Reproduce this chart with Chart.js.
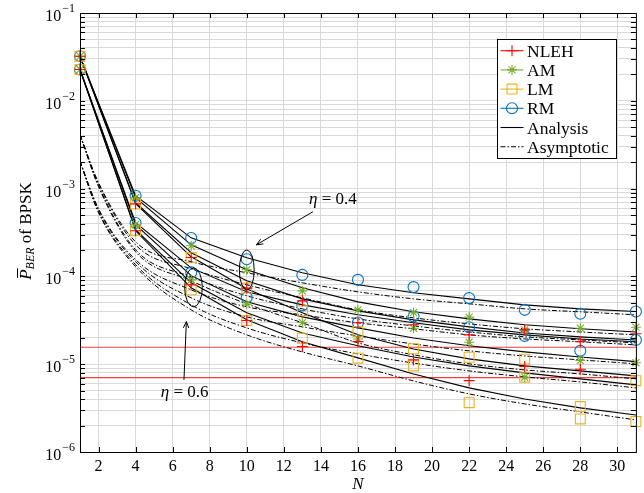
<!DOCTYPE html>
<html>
<head>
<meta charset="utf-8">
<script src="https://cdn.jsdelivr.net/npm/chart.js@4.4.1/dist/chart.umd.min.js"></script>
<style>
html, body { margin: 0; padding: 0; background: #fff; }
</style>
</head>
<body>
<canvas id="berChart" width="644" height="493"></canvas>
<script>
// number of antennas N where the curves are sampled
const N = [1, 4, 7, 10, 13, 16, 19, 22, 25, 28, 31];
const NAsym = [1, 2, 4, 7, 10, 13, 16, 19, 22, 25, 28, 31];
const xTicks = [2, 4, 6, 8, 10, 12, 14, 16, 18, 20, 22, 24, 26, 28, 30];
const yDecades = [1e-6, 1e-5, 1e-4, 1e-3, 1e-2, 1e-1];

// simulated BER, eta = 0.4
const simNLEH04 = [3.22e-2, 6.7e-4, 1.64e-4, 7.36e-5, 5.27e-5, 2.96e-5, 2.81e-5, 2.16e-5, 2.46e-5, 1.81e-5, 2.22e-5];
const simAM04   = [3.22e-2, 7.87e-4, 2.23e-4, 1.19e-4, 6.85e-5, 4.16e-5, 3.87e-5, 3.44e-5, 2.46e-5, 2.57e-5, 2.64e-5];
const simLM04   = [3.22e-2, 6.67e-4, 1.64e-4, 7.36e-5, 4.05e-5, 2.35e-5, 1.50e-5, 1.20e-5, 1.14e-5, 3.29e-6, 6.50e-6];
const simRM04   = [3.22e-2, 8.3e-4, 2.74e-4, 1.57e-4, 1.04e-4, 9.14e-5, 7.55e-5, 5.66e-5, 4.16e-5, 3.75e-5, 3.98e-5];
// simulated BER, eta = 0.6
const simNLEH06 = [2.27e-2, 3.31e-4, 8.02e-5, 3.14e-5, 1.59e-5, 1.81e-5, 1.12e-5, 6.50e-6, 9.40e-6, 8.77e-6, null];
const simAM06   = [2.27e-2, 3.88e-4, 9.14e-5, 4.83e-5, 2.98e-5, 1.94e-5, 2.57e-5, 1.78e-5, 7.11e-6, 1.10e-5, 1.04e-5];
const simLM06   = [2.27e-2, 3.31e-4, 7.03e-5, 3.14e-5, 1.98e-5, 1.17e-5, 9.57e-6, 3.65e-6, 7.11e-6, 2.38e-6, 2.22e-6];
const simRM06   = [2.27e-2, 4.06e-4, 1.11e-4, 5.75e-5, 4.68e-5, 2.98e-5, 3.49e-5, 2.64e-5, 2.10e-5, 1.42e-5, 1.89e-5];

// analysis (solid)
const anaRM04   = [3.2e-2, 8.30e-4, 2.75e-4, 1.63e-4, 1.10e-4, 8.02e-5, 6.50e-5, 5.55e-5, 4.74e-5, 4.27e-5, 3.98e-5];
const anaAM04   = [3.2e-2, 7.87e-4, 2.29e-4, 1.19e-4, 7.41e-5, 5.13e-5, 3.95e-5, 3.28e-5, 2.81e-5, 2.53e-5, 2.33e-5];
const anaNLEH04 = [3.2e-2, 6.90e-4, 1.86e-4, 8.91e-5, 5.55e-5, 4.05e-5, 3.20e-5, 2.66e-5, 2.27e-5, 2.05e-5, 1.89e-5];
const anaLM04   = [3.2e-2, 6.72e-4, 1.67e-4, 7.22e-5, 3.85e-5, 2.16e-5, 1.49e-5, 1.15e-5, 9.56e-6, 8.39e-6, 7.36e-6];
const anaRM06   = [2.27e-2, 4.08e-4, 1.25e-4, 6.67e-5, 4.74e-5, 3.65e-5, 2.96e-5, 2.46e-5, 2.16e-5, 1.94e-5, 1.80e-5];
const anaAM06   = [2.27e-2, 3.88e-4, 1.02e-4, 5.13e-5, 3.46e-5, 2.59e-5, 1.99e-5, 1.62e-5, 1.38e-5, 1.21e-5, 1.07e-5];
const anaNLEH06 = [2.27e-2, 3.40e-4, 8.45e-5, 3.85e-5, 2.27e-5, 1.62e-5, 1.21e-5, 9.56e-6, 7.96e-6, 6.80e-6, 5.81e-6];
const anaLM06   = [2.27e-2, 3.31e-4, 7.41e-5, 3.20e-5, 1.80e-5, 1.18e-5, 7.75e-6, 5.37e-6, 4.02e-6, 3.18e-6, 2.64e-6];

// asymptotic (dash-dot), sampled on NAsym
const asyRM04   = [4.1e-3, 1.17e-3, 2.48e-4, 1.47e-4, 1.10e-4, 8.45e-5, 6.67e-5, 5.55e-5, 4.87e-5, 4.27e-5, 3.95e-5, 3.65e-5];
const asyAM04   = [4.1e-3, 1.14e-3, 2.29e-4, 1.22e-4, 8.02e-5, 5.70e-5, 4.16e-5, 3.37e-5, 2.88e-5, 2.53e-5, 2.33e-5, 2.16e-5];
const asyNLEH04 = [4.1e-3, 1.08e-3, 2.01e-4, 9.89e-5, 6.01e-5, 4.27e-5, 3.28e-5, 2.73e-5, 2.33e-5, 2.05e-5, 1.89e-5, 1.75e-5];
const asyLM04   = [4.1e-3, 1.05e-3, 1.91e-4, 8.91e-5, 4.87e-5, 2.96e-5, 1.75e-5, 1.28e-5, 1.01e-5, 8.61e-6, 7.75e-6, 6.80e-6];
const asyRM06   = [2.04e-3, 5.90e-4, 1.55e-4, 7.03e-5, 4.50e-5, 3.65e-5, 2.96e-5, 2.53e-5, 2.16e-5, 1.94e-5, 1.80e-5, 1.66e-5];
const asyAM06   = [2.04e-3, 5.74e-4, 1.47e-4, 5.70e-5, 3.46e-5, 2.66e-5, 2.10e-5, 1.70e-5, 1.42e-5, 1.24e-5, 1.12e-5, 1.01e-5];
const asyNLEH06 = [2.04e-3, 5.45e-4, 1.36e-4, 4.74e-5, 2.59e-5, 1.75e-5, 1.31e-5, 1.03e-5, 8.39e-6, 7.17e-6, 6.28e-6, 5.37e-6];
const asyLM06   = [2.04e-3, 5.31e-4, 1.29e-4, 4.16e-5, 2.16e-5, 1.38e-5, 9.56e-6, 6.45e-6, 4.59e-6, 3.53e-6, 2.86e-6, 2.32e-6];

// horizontal reference levels (red)
const redLevels = [1.56e-5, 7.03e-6];
const redSpan = [1, 31];

const SERIF = '"Liberation Serif", "DejaVu Serif", serif';
const schemes = [
  { name: 'NLEH', color: '#ff0000', style: 'cross', r: 5.5, sim: [simNLEH04, simNLEH06] },
  { name: 'AM',   color: '#77ac30', style: 'star',  r: 5,   sim: [simAM04, simAM06] },
  { name: 'LM',   color: '#edb120', style: 'rect',  r: 7,   sim: [simLM04, simLM06] },
  { name: 'RM',   color: '#0072bd', style: 'circle', r: 5.5, sim: [simRM04, simRM06] }
];
const DASHDOT = [5, 2, 1.5, 2];

function pts(xs, ys) {
  return xs.map((x, i) => ({ x: x, y: ys[i] })).filter(p => p.y != null);
}

const datasets = [];
// markers on top
schemes.forEach(s => {
  s.sim.forEach(arr => {
    datasets.push({
      data: pts(N, arr), showLine: false, order: 0, clip: false,
      pointStyle: s.style, pointRadius: s.r, pointHoverRadius: s.r,
      borderColor: s.color, backgroundColor: 'rgba(0,0,0,0)', pointBorderWidth: 1.1
    });
  });
});
[anaRM04, anaAM04, anaNLEH04, anaLM04, anaRM06, anaAM06, anaNLEH06, anaLM06].forEach(arr => {
  datasets.push({ data: pts(N, arr), borderColor: '#000', borderWidth: 1.1, pointRadius: 0, tension: 0, order: 1 });
});
[asyRM04, asyAM04, asyNLEH04, asyLM04, asyRM06, asyAM06, asyNLEH06, asyLM06].forEach(arr => {
  datasets.push({ data: pts(NAsym, arr), borderColor: '#000', borderWidth: 1, borderDash: DASHDOT,
    pointRadius: 0, cubicInterpolationMode: 'monotone', order: 1 });
});
redLevels.forEach(v => {
  datasets.push({ data: redSpan.map(x => ({ x: x, y: v })), borderColor: 'rgb(238,64,64)', borderWidth: 1.2, pointRadius: 0, order: 2 });
});

// eta annotations in data units
const notes = [
  { text: '0.4', tx: 14.65, ty: 7.66e-4, from: [13.57, 5.45e-4], to: [10.52, 2.29e-4], ex: [9.6, 10.4], ey: [2.0e-4, 7.0e-5] },
  { text: '0.6', tx: 6.65, ty: 4.83e-6, from: [6.61, 6.62e-6], to: [6.74, 3.06e-5], ex: [6.65, 7.6], ey: [1.25e-4, 4.5e-5] }
];

function marker(ctx, style, x, y, r) {
  ctx.beginPath();
  if (style === 'circle') { ctx.arc(x, y, r, 0, Math.PI * 2); }
  else if (style === 'rect') { const h = r * Math.SQRT1_2; ctx.rect(x - h, y - h, 2 * h, 2 * h); }
  else {
    ctx.moveTo(x - r, y); ctx.lineTo(x + r, y); ctx.moveTo(x, y - r); ctx.lineTo(x, y + r);
    if (style === 'star') {
      const d = r * Math.SQRT1_2;
      ctx.moveTo(x - d, y - d); ctx.lineTo(x + d, y + d); ctx.moveTo(x - d, y + d); ctx.lineTo(x + d, y - d);
    }
  }
  ctx.stroke();
}

function arrow(ctx, x1, y1, x2, y2) {
  ctx.beginPath(); ctx.moveTo(x1, y1); ctx.lineTo(x2, y2); ctx.stroke();
  const a = Math.atan2(y2 - y1, x2 - x1), L = 7;
  ctx.beginPath();
  ctx.moveTo(x2 - L * Math.cos(a - 0.4), y2 - L * Math.sin(a - 0.4));
  ctx.lineTo(x2, y2);
  ctx.lineTo(x2 - L * Math.cos(a + 0.4), y2 - L * Math.sin(a + 0.4));
  ctx.stroke();
}

const decorations = {
  id: 'decorations',
  afterDraw(chart) {
    const ctx = chart.ctx, a = chart.chartArea, xs = chart.scales.x, ys = chart.scales.y;
    ctx.save();
    ctx.strokeStyle = '#000'; ctx.fillStyle = '#000'; ctx.lineWidth = 1;

    // inner ticks
    ctx.beginPath();
    ys.ticks.forEach(t => {
      const py = Math.round(ys.getPixelForValue(t.value)) + 0.5;
      ctx.moveTo(a.left, py); ctx.lineTo(a.left + 5, py);
      ctx.moveTo(a.right, py); ctx.lineTo(a.right - 5, py);
    });
    xTicks.forEach(v => {
      const px = Math.round(xs.getPixelForValue(v)) + 0.5;
      ctx.moveTo(px, a.bottom); ctx.lineTo(px, a.bottom - 5);
      ctx.moveTo(px, a.top); ctx.lineTo(px, a.top + 5);
    });
    ctx.stroke();
    ctx.strokeRect(a.left + 0.5, a.top + 0.5, a.right - a.left, a.bottom - a.top);

    // y tick labels 10^k
    ctx.textAlign = 'right'; ctx.textBaseline = 'alphabetic';
    yDecades.forEach(v => {
      const py = ys.getPixelForValue(v);
      const sup = '\u2212' + Math.abs(Math.round(Math.log10(v)));
      ctx.font = '12px ' + SERIF;
      const sw = ctx.measureText(sup).width;
      ctx.fillText(sup, a.left - 5, py - 1);
      ctx.font = '16px ' + SERIF;
      ctx.fillText('10', a.left - 6 - sw, py + 8);
    });

    // axis titles
    ctx.textAlign = 'center';
    ctx.font = 'italic 17px ' + SERIF;
    ctx.fillText('N', (a.left + a.right) / 2, 489);

    ctx.save();
    ctx.translate(25, 231); ctx.rotate(-Math.PI / 2);
    ctx.textAlign = 'left';
    ctx.font = 'italic 17px ' + SERIF; const wP = ctx.measureText('P').width;
    ctx.font = 'italic 12px ' + SERIF; const wB = ctx.measureText('BER').width;
    ctx.font = '17px ' + SERIF; const wR = ctx.measureText(' of BPSK').width;
    let x0 = -(wP + wB + wR) / 2;
    ctx.font = 'italic 17px ' + SERIF; ctx.fillText('P', x0, 6);
    ctx.beginPath(); ctx.moveTo(x0 + 2, -7.5); ctx.lineTo(x0 + wP + 1, -7.5); ctx.stroke();
    ctx.font = 'italic 12px ' + SERIF; ctx.fillText('BER', x0 + wP, 9);
    ctx.font = '17px ' + SERIF; ctx.fillText(' of BPSK', x0 + wP + wB, 6);
    ctx.restore();

    // eta annotations
    notes.forEach(n => {
      const cx = xs.getPixelForValue((n.ex[0] + n.ex[1]) / 2);
      const y1 = ys.getPixelForValue(n.ey[0]), y2 = ys.getPixelForValue(n.ey[1]);
      const rx = (xs.getPixelForValue(n.ex[1]) - xs.getPixelForValue(n.ex[0])) / 2;
      ctx.beginPath();
      ctx.ellipse(cx, (y1 + y2) / 2, rx, Math.abs(y2 - y1) / 2, 0, 0, Math.PI * 2);
      ctx.stroke();
      arrow(ctx, xs.getPixelForValue(n.from[0]), ys.getPixelForValue(n.from[1]),
                 xs.getPixelForValue(n.to[0]), ys.getPixelForValue(n.to[1]));
      const tx = xs.getPixelForValue(n.tx), ty = ys.getPixelForValue(n.ty);
      ctx.font = 'italic 17px ' + SERIF; const we = ctx.measureText('\u03b7').width;
      ctx.font = '17px ' + SERIF; const wr = ctx.measureText(' = ' + n.text).width;
      const sx = tx - (we + wr) / 2;
      ctx.textAlign = 'left';
      ctx.font = 'italic 17px ' + SERIF; ctx.fillText('\u03b7', sx, ty + 5);
      ctx.font = '17px ' + SERIF; ctx.fillText(' = ' + n.text, sx + we, ty + 5);
    });

    // legend
    const lx = 497.5, ly = 39.5, lw = 119, lh = 119;
    ctx.fillStyle = '#fff'; ctx.fillRect(lx, ly, lw, lh);
    ctx.strokeStyle = '#000'; ctx.strokeRect(lx, ly, lw, lh);
    const rows = schemes.map(s => ({ label: s.name, color: s.color, style: s.style, r: s.r }))
      .concat([{ label: 'Analysis', color: '#000' }, { label: 'Asymptotic', color: '#000', dash: DASHDOT }]);
    rows.forEach((row, i) => {
      const cy = 50.7 + i * 19.2;
      ctx.strokeStyle = row.color; ctx.lineWidth = 1.1;
      ctx.setLineDash(row.dash || []);
      ctx.beginPath(); ctx.moveTo(500.5, cy); ctx.lineTo(523.5, cy); ctx.stroke();
      ctx.setLineDash([]);
      if (row.style) marker(ctx, row.style, 512, cy, row.r);
      ctx.fillStyle = '#000'; ctx.textAlign = 'left';
      ctx.font = '17.5px ' + SERIF;
      ctx.fillText(row.label, 527, cy + 6);
    });
    ctx.restore();
  }
};

new Chart(document.getElementById('berChart'), {
  type: 'line',
  data: { datasets: datasets },
  options: {
    responsive: false, animation: false, devicePixelRatio: 1,
    layout: { padding: { top: 13, right: 8, left: 0, bottom: 0 } },
    plugins: { legend: { display: false }, tooltip: { enabled: false } },
    scales: {
      x: {
        type: 'linear', min: 1, max: 31,
        afterBuildTicks: s => { s.ticks = xTicks.map(v => ({ value: v })); },
        afterFit: s => { s.height = 41; },
        grid: { color: '#d9d9d9', drawTicks: false },
        border: { display: false },
        ticks: { font: { family: SERIF, size: 16 }, color: '#000', padding: 5, autoSkip: false, maxRotation: 0 }
      },
      y: {
        type: 'logarithmic', min: 1e-6, max: 1e-1,
        afterBuildTicks: s => {
          const t = [];
          yDecades.forEach(d => { for (let m = 1; m < 10; m++) { if (d * m <= 1e-1 * 1.0001) t.push({ value: d * m }); } });
          s.ticks = t;
        },
        afterFit: s => { s.width = 80; },
        grid: { color: '#d9d9d9', drawTicks: false },
        border: { display: false },
        ticks: { display: false }
      }
    }
  },
  plugins: [decorations]
});
</script>
</body>
</html>
